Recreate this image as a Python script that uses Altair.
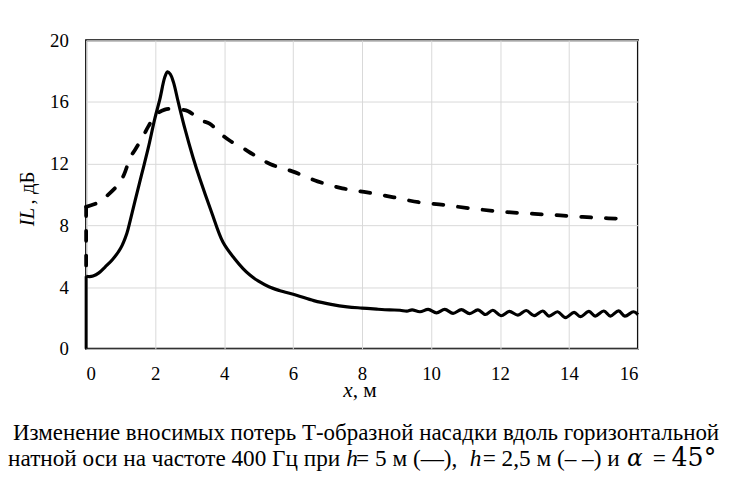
import altair as alt
import pandas as pd

# ---- data ----
# vertical starts of both curves at x = 0
solid_start_x = [0]
solid_start_y = [0]
solid_start_y2 = [4.70]
dashed_start_x = [0]
dashed_start_y = [5.40]
dashed_start_y2 = [9.20]

solid_x = [0, 0.10, 0.20, 0.37, 0.55, 0.76, 1.00, 1.18, 1.28, 1.42, 1.61, 1.80, 1.99, 2.14, 2.28,
           2.36, 2.44, 2.53, 2.67, 2.86, 3.10, 3.30, 3.63, 3.97, 4.30, 4.55, 4.75, 5.00, 5.30, 5.60,
           6.10, 6.60, 7.10, 7.57, 8.00, 8.43, 8.80, 9.10, 9.30,
           9.45, 9.68, 9.92, 10.16, 10.40, 10.64, 10.88, 11.12, 11.36, 11.58, 11.79, 12.03,
           12.27, 12.52, 12.76, 12.99, 13.24, 13.42, 13.67, 13.90, 14.15, 14.33, 14.58, 14.76,
           15.01, 15.20, 15.44, 15.62, 15.87, 16.00]
solid_y = [4.70, 4.68, 4.72, 4.92, 5.30, 5.77, 6.52, 7.48, 8.33, 9.61, 11.30, 13.00, 14.90, 16.20, 17.60,
           17.95, 17.80, 17.30, 16.00, 14.30, 12.40, 11.00, 8.90, 6.90, 5.85, 5.20, 4.78, 4.38, 4.02, 3.78,
           3.47, 3.12, 2.88, 2.72, 2.64, 2.57, 2.52, 2.50, 2.44,
           2.52, 2.40, 2.55, 2.33, 2.55, 2.30, 2.54, 2.28, 2.52, 2.22, 2.50, 2.14,
           2.42, 2.18, 2.48, 2.15, 2.45, 2.12, 2.40, 2.02, 2.36, 2.08, 2.42, 2.12,
           2.45, 2.12, 2.46, 2.12, 2.40, 2.22]

dashed_x = [0, 0.37, 0.61, 0.95, 1.10, 1.28, 1.42, 1.66, 1.80, 2.04, 2.28, 2.50, 2.76, 2.96,
            3.34, 3.58, 3.92, 4.16, 4.55, 4.84, 5.35, 5.98, 6.71, 7.43, 8.15, 8.92, 9.64, 10.36,
            11.08, 11.85, 12.57, 13.35, 14.10, 14.87, 15.54, 15.75]
dashed_y = [9.20, 9.50, 9.93, 10.70, 11.30, 12.40, 12.90, 13.80, 14.40, 15.20, 15.50, 15.55,
            15.50, 15.40, 14.80, 14.60, 13.90, 13.50, 13.00, 12.60, 11.96, 11.50, 10.85, 10.40,
            10.14, 9.82, 9.50, 9.33, 9.12, 8.93, 8.80, 8.70, 8.59, 8.48, 8.41, 8.29]

x_ticks = [0, 2, 4, 6, 8, 10, 12, 14, 16]
y_ticks = [0, 4, 8, 12, 16, 20]

SERIF = "Liberation Serif"
DASH = [10, 15]

df_solid = pd.DataFrame({"x": solid_x, "y": solid_y, "i": list(range(len(solid_x)))})
df_dashed = pd.DataFrame({"x": dashed_x, "y": dashed_y, "i": list(range(len(dashed_x)))})
df_solid_start = pd.DataFrame({"x": solid_start_x, "y": solid_start_y, "y2": solid_start_y2})
df_dashed_start = pd.DataFrame({"x": dashed_start_x, "y": dashed_start_y, "y2": dashed_start_y2})

x_enc = alt.X("x:Q", scale=alt.Scale(domain=[0, 16], nice=False, zero=False),
              axis=alt.Axis(values=x_ticks, title=None, grid=True, gridColor="#d9d9d9", gridWidth=1,
                            domain=False, ticks=False, tickSize=0, labelPadding=16,
                            labelFont=SERIF, labelFontSize=19, labelColor="black"))
y_enc = alt.Y("y:Q", scale=alt.Scale(domain=[0, 20], nice=False),
              axis=alt.Axis(values=y_ticks, title=None, grid=True, gridColor="#d9d9d9", gridWidth=1,
                            domain=False, ticks=False, tickSize=0, labelPadding=18,
                            labelFont=SERIF, labelFontSize=19, labelColor="black"))

solid_start = alt.Chart(df_solid_start).mark_rule(color="black", strokeWidth=3).encode(
    x=x_enc, y=y_enc, y2="y2:Q")
dashed_start = alt.Chart(df_dashed_start).mark_rule(color="black", strokeWidth=3.8, strokeDash=DASH,
                                                    strokeCap="round").encode(
    x=x_enc, y=y_enc, y2="y2:Q")
solid = alt.Chart(df_solid).mark_line(color="black", strokeWidth=3.2, interpolate="catmull-rom",
                                      strokeJoin="round").encode(x=x_enc, y=y_enc, order="i:Q")
dashed = alt.Chart(df_dashed).mark_line(color="black", strokeWidth=3.8, strokeDash=DASH,
                                        strokeCap="round", interpolate="catmull-rom").encode(
    x=x_enc, y=y_enc, order="i:Q")


def label(text, px, py, size, style="normal", font=SERIF, angle=0, align="left", baseline="alphabetic"):
    return alt.Chart(pd.DataFrame({"t": [text]})).mark_text(
        font=font, fontSize=size, fontStyle=style, angle=angle, align=align,
        baseline=baseline, color="black").encode(text="t:N", x=alt.value(px), y=alt.value(py))


CAP = 23.5
labels = [
    # y-axis title
    label("IL", -59, 188, 21, style="italic", angle=270, baseline="middle"),
    label(", дБ", -59, 166, 21, angle=270, baseline="middle"),
    # x-axis title
    label("x", 260, 361, 21.5, style="italic"),
    label(", м", 269.5, 361, 21.5),
    # caption
    label("Изменение вносимых потерь Т-образной насадки вдоль горизонтальной коорди-", -74, 404, 23.2),
    label("натной оси на частоте 400 Гц при", -79, 431, CAP),
    label("h", 263, 431, CAP, style="italic"),
    label("= 5 м (—),", 273, 431, CAP),
    label("h", 388, 431, CAP, style="italic"),
    label("= 2,5 м (– –) и", 401, 431, CAP),
    label("α", 547, 431, CAP, style="italic", font="DejaVu Serif"),
    label("=", 573, 431, CAP),
    label("45°", 592, 431, 25.5, font="DejaVu Serif"),
]

chart = alt.layer(solid_start, dashed_start, solid, dashed, *labels).properties(
    width=558, height=312,
    padding={"left": 79, "top": 30, "right": 85, "bottom": 122},
    autosize=alt.AutoSizeParams(type="none"),
    background="white",
).configure_view(stroke="black", strokeWidth=2)

chart.save("out.html", embed_options={"renderer": "svg", "actions": False})
